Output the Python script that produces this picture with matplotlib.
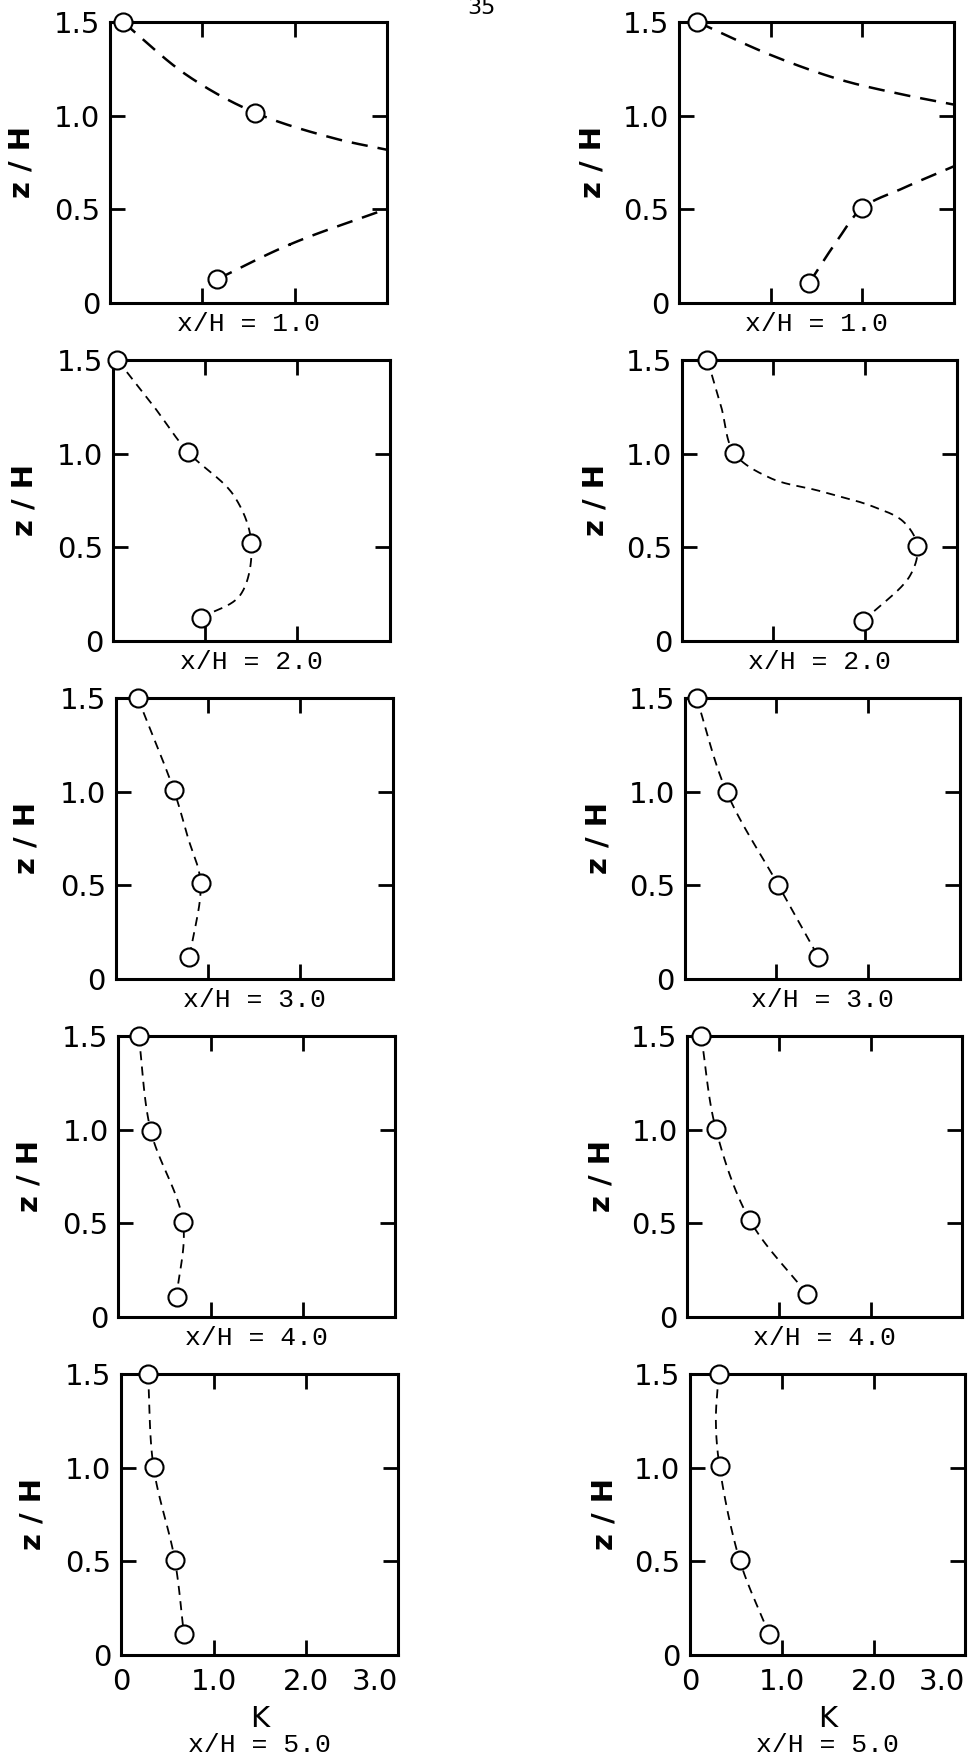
import numpy as np
import matplotlib
matplotlib.use('Agg')
import matplotlib.pyplot as plt

# Профили K(z/H) на разных расстояниях x/H (левая и правая колонки)
stations = ['x/H = 1.0', 'x/H = 2.0', 'x/H = 3.0', 'x/H = 4.0', 'x/H = 5.0']

# измеренные точки (кружки)
left_k = [[1.16, 1.57, 0.14],
          [0.95, 1.50, 0.81, 0.05],
          [0.80, 0.92, 0.63, 0.24],
          [0.63, 0.70, 0.35, 0.22],
          [0.68, 0.58, 0.35, 0.29]]
left_z = [[0.127, 1.016, 1.5],
          [0.124, 0.523, 1.011, 1.5],
          [0.116, 0.514, 1.009, 1.5],
          [0.105, 0.506, 0.995, 1.5],
          [0.111, 0.509, 1.004, 1.5]]
right_k = [[1.42, 2.00, 0.20],
           [1.98, 2.57, 0.57, 0.28],
           [1.46, 1.02, 0.46, 0.13],
           [1.30, 0.68, 0.31, 0.15],
           [0.86, 0.54, 0.32, 0.31]]
right_z = [[0.107, 0.507, 1.5],
           [0.108, 0.507, 1.004, 1.5],
           [0.117, 0.503, 0.997, 1.5],
           [0.125, 0.518, 1.004, 1.5],
           [0.112, 0.506, 1.007, 1.5]]

# штриховые кривые, проведённые по точкам (K, z/H)
left_curves = [
    [([0.14, 0.83, 1.57, 2.42, 3.0], [1.5, 1.217, 1.016, 0.88, 0.818]),
     ([1.16, 1.95, 3.0], [0.127, 0.313, 0.503])],
    [([0.05, 0.44, 0.81, 1.31, 1.50, 1.38, 0.95], [1.5, 1.255, 1.011, 0.777, 0.523, 0.245, 0.124])],
    [([0.24, 0.63, 0.78, 0.92, 0.80], [1.5, 1.009, 0.76, 0.514, 0.116])],
    [([0.22, 0.35, 0.70, 0.63], [1.5, 0.995, 0.506, 0.105])],
    [([0.29, 0.35, 0.58, 0.68], [1.5, 1.004, 0.509, 0.111])],
]
right_curves = [
    [([0.20, 0.99, 1.76, 2.45, 3.0], [1.5, 1.326, 1.192, 1.112, 1.059]),
     ([1.42, 1.72, 2.00, 2.45, 3.0], [0.107, 0.329, 0.507, 0.614, 0.73])],
    [([0.28, 0.43, 0.57, 0.97, 1.51, 2.09, 2.42, 2.57, 2.49, 1.98],
      [1.5, 1.25, 1.004, 0.869, 0.80, 0.717, 0.636, 0.507, 0.349, 0.108])],
    [([0.13, 0.46, 1.02, 1.46], [1.5, 0.997, 0.503, 0.117])],
    [([0.15, 0.31, 0.68, 1.30], [1.5, 1.004, 0.518, 0.125])],
    [([0.31, 0.28, 0.32, 0.54, 0.86], [1.5, 1.25, 1.007, 0.506, 0.112])],
]

k_ticks = [0, 1, 2, 3]
k_labels = ['0', '1.0', '2.0', '3.0']
z_ticks = [0, 0.5, 1.0, 1.5]
z_labels = ['0', '0.5', '1.0', '1.5']


def smooth(kx, zy, n=40):
    # центростремительный сплайн Катмулла-Рома (z растянут в 2 раза, как на рисунке)
    p = np.column_stack([kx, np.array(zy) * 2.0])
    p = np.vstack([2 * p[0] - p[1], p, 2 * p[-1] - p[-2]])
    out = []
    for i in range(len(p) - 3):
        p0, p1, p2, p3 = p[i], p[i + 1], p[i + 2], p[i + 3]
        t0 = 0.0
        t1 = t0 + np.linalg.norm(p1 - p0) ** 0.5
        t2 = t1 + np.linalg.norm(p2 - p1) ** 0.5
        t3 = t2 + np.linalg.norm(p3 - p2) ** 0.5
        t = np.linspace(t1, t2, n)[:, None]
        a1 = (t1 - t) / (t1 - t0) * p0 + (t - t0) / (t1 - t0) * p1
        a2 = (t2 - t) / (t2 - t1) * p1 + (t - t1) / (t2 - t1) * p2
        a3 = (t3 - t) / (t3 - t2) * p2 + (t - t2) / (t3 - t2) * p3
        b1 = (t2 - t) / (t2 - t0) * a1 + (t - t0) / (t2 - t0) * a2
        b2 = (t3 - t) / (t3 - t1) * a2 + (t - t1) / (t3 - t1) * a3
        c = (t2 - t) / (t2 - t1) * b1 + (t - t1) / (t2 - t1) * b2
        out.append(c)
    c = np.vstack(out)
    return c[:, 0], c[:, 1] / 2.0


W, H = 972, 1761
fig = plt.figure(figsize=(W / 100, H / 100), dpi=100)
fig.text(481 / W, 1 - 8 / H, '35', ha='center', va='center', fontsize=16,
         family='DejaVu Sans')

for row in range(5):
    for col in range(2):
        x0 = (110 if col == 0 else 679) + 2.8 * row
        w = 277 if col == 0 else 275
        y0 = 22 + 338 * row
        h = 281
        ax = fig.add_axes([x0 / W, 1 - (y0 + h) / H, w / W, h / H])

        ks = left_k if col == 0 else right_k
        zs = left_z if col == 0 else right_z
        curves = left_curves if col == 0 else right_curves

        lw = 1.8 if row == 0 else 1.3
        dash = (6.5, 4) if row == 0 else (5, 3.5)
        for ck, cz in curves[row]:
            sx, sy = smooth(ck, cz)
            ax.plot(sx, sy, color='black', lw=lw, dashes=dash, zorder=2)
        ax.plot(ks[row], zs[row], 'o', ms=13, mfc='white', mec='black',
                mew=1.5, clip_on=False, zorder=5)

        ax.set_xlim(0, 3)
        ax.set_ylim(0, 1.5)
        ax.set_yticks(z_ticks, z_labels)
        ax.tick_params(direction='in', length=11, width=2, top=True, right=True,
                       labelsize=21, pad=7)
        for lab in ax.get_yticklabels():
            lab.set_family('DejaVu Sans')
        for s in ax.spines.values():
            s.set_linewidth(2.2)

        ax.set_ylabel('z / H', fontsize=21, fontweight='bold', family='DejaVu Sans')
        ax.yaxis.set_label_coords(-0.27 if col == 0 else -0.262, 0.5)

        if row < 4:
            ax.set_xticks(k_ticks, [])
            ax.text(0.5, -0.075, stations[row], transform=ax.transAxes,
                    ha='center', va='center', fontsize=19, family='Liberation Mono')
        else:
            ax.set_xticks(k_ticks, k_labels)
            xl = ax.get_xticklabels()
            for lab in xl:
                lab.set_family('DejaVu Sans')
                lab.set_fontsize(21)
            xl[-1].set_horizontalalignment('right')
            ax.tick_params(axis='x', pad=9)
            ax.text(0.5, -0.228, 'K', transform=ax.transAxes, ha='center',
                    va='center', fontsize=21, family='DejaVu Sans')
            ax.text(0.5, -0.32, stations[row], transform=ax.transAxes,
                    ha='center', va='center', fontsize=19, family='Liberation Mono')

fig.savefig('out.png', dpi=100)
